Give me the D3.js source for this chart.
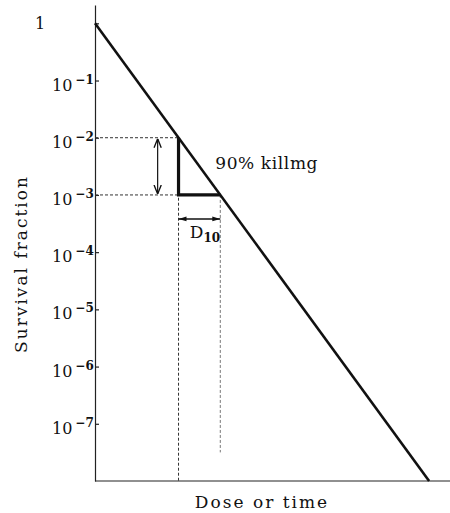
<!DOCTYPE html>
<html>
<head>
<meta charset="utf-8">
<script src="https://cdn.jsdelivr.net/npm/d3@7"></script>
<style>
  body { margin: 0; background: #fff; }
  svg text { font-family: "DejaVu Serif", "Liberation Serif", serif; fill: #111; }
</style>
</head>
<body>
<svg width="450" height="513"></svg>
<script>
// survival curve end points (dose in units of D10)
var doses = [0, 8];
var survival = [1, 1e-8];

// the 90% killing step
var stepDose = [2, 3];
var stepSurv = [1e-2, 1e-3];

// tick exponents for the log axis
var tickExp = [0, -1, -2, -3, -4, -5, -6, -7];

var svg = d3.select("svg");

// scales
var x = d3.scaleLinear()
    .domain([0, 8.5])
    .range([95, 450]);

var y = d3.scaleLog()
    .domain([1e-8, Math.pow(10, 0.32)])
    .range([481, 5]);

// y axis, ticks pointing inwards
var yAxis = d3.axisLeft(y)
    .tickValues(tickExp.map(function(e) { return Math.pow(10, e); }))
    .tickSizeInner(-4)
    .tickSizeOuter(0)
    .tickFormat("");

var gy = svg.append("g")
    .attr("transform", "translate(95,0)")
    .call(yAxis);
gy.selectAll("path, line").attr("stroke", "#222").attr("stroke-width", 1.2);

// tick labels with superscripts
var labels = svg.append("g")
    .attr("font-size", 16);
tickExp.forEach(function(e) {
  var v = Math.pow(10, e);
  var t = labels.append("text");
  if (e === 0) {
    t.attr("x", 35).attr("y", y(v) + 6).text("1");
  } else {
    t.attr("x", 52).attr("y", y(v) + 10).text("10");
    t.append("tspan")
      .attr("dx", 3)
      .attr("dy", -7)
      .attr("font-size", 12)
      .attr("font-weight", "bold")
      .text("\u2212" + (-e));
  }
});

// x axis, plain line
svg.append("line")
    .attr("x1", x(0)).attr("x2", x(8.5))
    .attr("y1", y(1e-8)).attr("y2", y(1e-8))
    .attr("stroke", "#222")
    .attr("stroke-width", 1.2);

// dotted guides
var guides = svg.append("g")
    .attr("stroke", "#333")
    .attr("stroke-width", 1)
    .attr("stroke-dasharray", "3,2");

guides.append("line")
    .attr("x1", x(0)).attr("x2", x(stepDose[0]))
    .attr("y1", y(stepSurv[0])).attr("y2", y(stepSurv[0]));
guides.append("line")
    .attr("x1", x(0)).attr("x2", x(stepDose[1]))
    .attr("y1", y(stepSurv[1])).attr("y2", y(stepSurv[1]));
guides.append("line")
    .attr("x1", x(stepDose[0])).attr("x2", x(stepDose[0]))
    .attr("y1", y(stepSurv[0])).attr("y2", y(1e-8));
guides.append("line")
    .attr("x1", x(stepDose[1])).attr("x2", x(stepDose[1]))
    .attr("y1", y(stepSurv[1])).attr("y2", y(Math.pow(10, -7.5)))
    .attr("stroke", "#777");

// main survival line
var line = d3.line()
    .x(function(d) { return x(d[0]); })
    .y(function(d) { return y(d[1]); });

svg.append("path")
    .datum(d3.zip(doses, survival))
    .attr("d", line)
    .attr("fill", "none")
    .attr("stroke", "#111")
    .attr("stroke-width", 2.6);

// heavy step (the triangle legs)
svg.append("path")
    .datum([[stepDose[0], stepSurv[0]], [stepDose[0], stepSurv[1]], [stepDose[1], stepSurv[1]]])
    .attr("d", line)
    .attr("fill", "none")
    .attr("stroke", "#111")
    .attr("stroke-width", 3.2);

// arrow heads
var defs = svg.append("defs");
defs.append("marker")
    .attr("id", "open")
    .attr("viewBox", "0 0 10 10")
    .attr("refX", 10).attr("refY", 5)
    .attr("markerWidth", 9).attr("markerHeight", 9)
    .attr("markerUnits", "userSpaceOnUse")
    .attr("orient", "auto-start-reverse")
  .append("path")
    .attr("d", "M0,1L10,5L0,9")
    .attr("fill", "none")
    .attr("stroke", "#111")
    .attr("stroke-width", 1.5);
defs.append("marker")
    .attr("id", "solid")
    .attr("viewBox", "0 0 10 10")
    .attr("refX", 10).attr("refY", 5)
    .attr("markerWidth", 10).attr("markerHeight", 8)
    .attr("markerUnits", "userSpaceOnUse")
    .attr("orient", "auto-start-reverse")
  .append("path")
    .attr("d", "M0,2L10,5L0,8Z")
    .attr("fill", "#111");

// vertical double arrow: one decade
svg.append("line")
    .attr("x1", x(1.5)).attr("x2", x(1.5))
    .attr("y1", y(stepSurv[0]) + 1).attr("y2", y(stepSurv[1]) - 1)
    .attr("stroke", "#111")
    .attr("stroke-width", 1.2)
    .attr("marker-start", "url(#open)")
    .attr("marker-end", "url(#open)");

// horizontal double arrow: D10
var yArrow = y(Math.pow(10, -3.42));
svg.append("line")
    .attr("x1", x(stepDose[0])).attr("x2", x(stepDose[1]))
    .attr("y1", yArrow).attr("y2", yArrow)
    .attr("stroke", "#111")
    .attr("stroke-width", 1.5)
    .attr("marker-start", "url(#solid)")
    .attr("marker-end", "url(#solid)");

// annotations
svg.append("text")
    .attr("x", x(2.88))
    .attr("y", y(Math.pow(10, -2.55)))
    .attr("font-size", 17)
    .attr("letter-spacing", 0.6)
    .text("90% killmg");

var dt = svg.append("text")
    .attr("x", x(2.27))
    .attr("y", y(Math.pow(10, -3.75)))
    .attr("font-size", 17)
    .text("D");
dt.append("tspan")
    .attr("dy", 4)
    .attr("font-size", 12)
    .attr("font-weight", "bold")
    .text("10");

// axis titles
svg.append("text")
    .attr("x", 262)
    .attr("y", 508)
    .attr("text-anchor", "middle")
    .attr("font-size", 17)
    .attr("letter-spacing", 2)
    .text("Dose or time");

svg.append("text")
    .attr("transform", "translate(27,264) rotate(-90)")
    .attr("text-anchor", "middle")
    .attr("font-size", 17)
    .attr("letter-spacing", 2)
    .text("Survival fraction");
</script>
</body>
</html>
